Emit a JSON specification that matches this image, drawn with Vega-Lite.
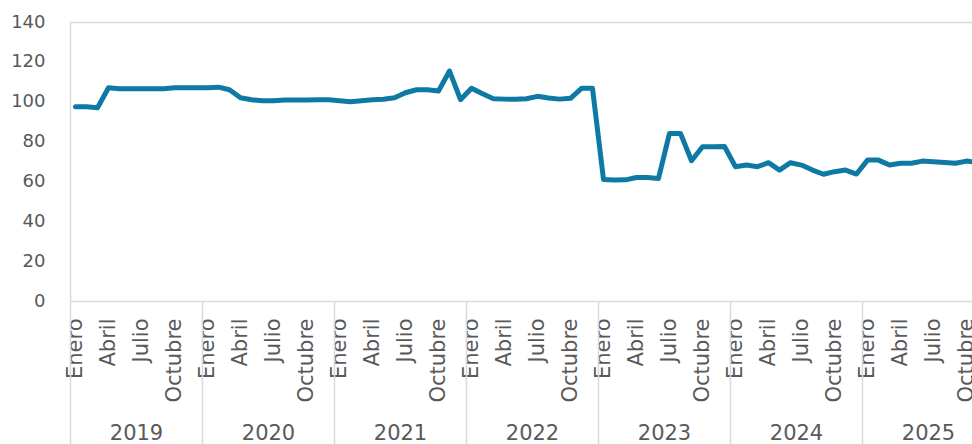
{
  "$schema": "https://vega.github.io/schema/vega-lite/v6.json",
  "width": 902,
  "height": 279,
  "autosize": {"type": "none"},
  "padding": {"left": 70, "top": 22, "right": 0, "bottom": 143},
  "background": "white",
  "config": {
    "view": {"stroke": null},
    "font": "DejaVu Sans",
    "axis": {"labelFont": "DejaVu Sans", "labelFontSize": 21, "labelColor": "#595959"},
    "axisY": {"labelFontSize": 18, "labelOverlap": false}
  },
  "data": {
    "values": [
      {"t": 0, "valor": 97.5}, {"t": 1, "valor": 97.5}, {"t": 2, "valor": 97}, {"t": 3, "valor": 107}, {"t": 4, "valor": 106.5}, {"t": 5, "valor": 106.5}, {"t": 6, "valor": 106.5}, {"t": 7, "valor": 106.5}, {"t": 8, "valor": 106.5}, {"t": 9, "valor": 107}, {"t": 10, "valor": 107}, {"t": 11, "valor": 107},
      {"t": 12, "valor": 107}, {"t": 13, "valor": 107.3}, {"t": 14, "valor": 106}, {"t": 15, "valor": 102}, {"t": 16, "valor": 101}, {"t": 17, "valor": 100.5}, {"t": 18, "valor": 100.5}, {"t": 19, "valor": 100.8}, {"t": 20, "valor": 100.8}, {"t": 21, "valor": 100.8}, {"t": 22, "valor": 101}, {"t": 23, "valor": 101},
      {"t": 24, "valor": 100.5}, {"t": 25, "valor": 100}, {"t": 26, "valor": 100.5}, {"t": 27, "valor": 101}, {"t": 28, "valor": 101.2}, {"t": 29, "valor": 102}, {"t": 30, "valor": 104.5}, {"t": 31, "valor": 106}, {"t": 32, "valor": 106}, {"t": 33, "valor": 105.4}, {"t": 34, "valor": 115.4}, {"t": 35, "valor": 101},
      {"t": 36, "valor": 106.7}, {"t": 37, "valor": 104}, {"t": 38, "valor": 101.5}, {"t": 39, "valor": 101.3}, {"t": 40, "valor": 101.2}, {"t": 41, "valor": 101.5}, {"t": 42, "valor": 102.7}, {"t": 43, "valor": 101.9}, {"t": 44, "valor": 101.3}, {"t": 45, "valor": 101.7}, {"t": 46, "valor": 106.7}, {"t": 47, "valor": 106.7},
      {"t": 48, "valor": 61}, {"t": 49, "valor": 60.7}, {"t": 50, "valor": 60.8}, {"t": 51, "valor": 62}, {"t": 52, "valor": 62}, {"t": 53, "valor": 61.5}, {"t": 54, "valor": 84.1}, {"t": 55, "valor": 84.1}, {"t": 56, "valor": 70.4}, {"t": 57, "valor": 77.4}, {"t": 58, "valor": 77.4}, {"t": 59, "valor": 77.5},
      {"t": 60, "valor": 67.4}, {"t": 61, "valor": 68.2}, {"t": 62, "valor": 67.4}, {"t": 63, "valor": 69.4}, {"t": 64, "valor": 65.7}, {"t": 65, "valor": 69.4}, {"t": 66, "valor": 68.2}, {"t": 67, "valor": 65.7}, {"t": 68, "valor": 63.6}, {"t": 69, "valor": 64.9}, {"t": 70, "valor": 65.7}, {"t": 71, "valor": 63.7},
      {"t": 72, "valor": 70.7}, {"t": 73, "valor": 70.7}, {"t": 74, "valor": 68.2}, {"t": 75, "valor": 69.1}, {"t": 76, "valor": 69.1}, {"t": 77, "valor": 70.2}, {"t": 78, "valor": 69.9}, {"t": 79, "valor": 69.5}, {"t": 80, "valor": 69.1}, {"t": 81, "valor": 70.2}, {"t": 82, "valor": 69.6}
    ]
  },
  "layer": [
    {
      "mark": {"type": "line", "color": "#0e7aa3", "strokeWidth": 5, "strokeJoin": "round", "strokeCap": "round", "clip": true},
      "encoding": {
        "x": {
          "field": "t", "type": "quantitative",
          "scale": {"domain": [-0.5, 81.5], "nice": false, "zero": false},
          "axis": {
            "orient": "bottom",
            "values": [0, 3, 6, 9, 12, 15, 18, 21, 24, 27, 30, 33, 36, 39, 42, 45, 48, 51, 54, 57, 60, 63, 66, 69, 72, 75, 78, 81],
            "labelExpr": "['Enero','Abril','Julio','Octubre'][floor((datum.value % 12) / 3)]",
            "labelAngle": -90, "labelAlign": "right", "labelBaseline": "middle",
            "labelPadding": 17, "ticks": false, "domainColor": "#d9d9d9", "domainWidth": 1.5,
            "grid": false, "title": null, "labelFlush": false, "labelOverlap": false, "labelBound": false
          }
        },
        "y": {
          "field": "valor", "type": "quantitative",
          "scale": {"domain": [0, 140], "nice": false},
          "axis": {
            "values": [0, 20, 40, 60, 80, 100, 120, 140],
            "ticks": false, "domainColor": "#d9d9d9", "domainWidth": 1.5, "labelPadding": 25,
            "title": null, "grid": true, "gridWidth": 1.5,
            "gridColor": {"condition": {"test": "datum.value == 140", "value": "#d9d9d9"}, "value": "transparent"},
            "labelOverlap": false, "labelFlush": false, "labelBound": false
          }
        }
      }
    },
    {
      "mark": {"type": "rule", "strokeOpacity": 0},
      "encoding": {
        "x": {
          "field": "t", "type": "quantitative",
          "axis": {
            "orient": "bottom",
            "values": [-0.5, 11.5, 23.5, 35.5, 47.5, 59.5, 71.5],
            "labelExpr": "toString(2019 + round((datum.value + 0.5) / 12))",
            "ticks": true, "tickSize": 143, "tickColor": "#d9d9d9", "tickWidth": 1.5,
            "labelOffset": 66, "labelPadding": -22, "labelBaseline": "top", "labelAlign": "center",
            "domain": false, "grid": false, "title": null,
            "labelFlush": false, "labelOverlap": false, "labelBound": false
          }
        }
      }
    }
  ],
  "resolve": {"axis": {"x": "independent"}}
}
